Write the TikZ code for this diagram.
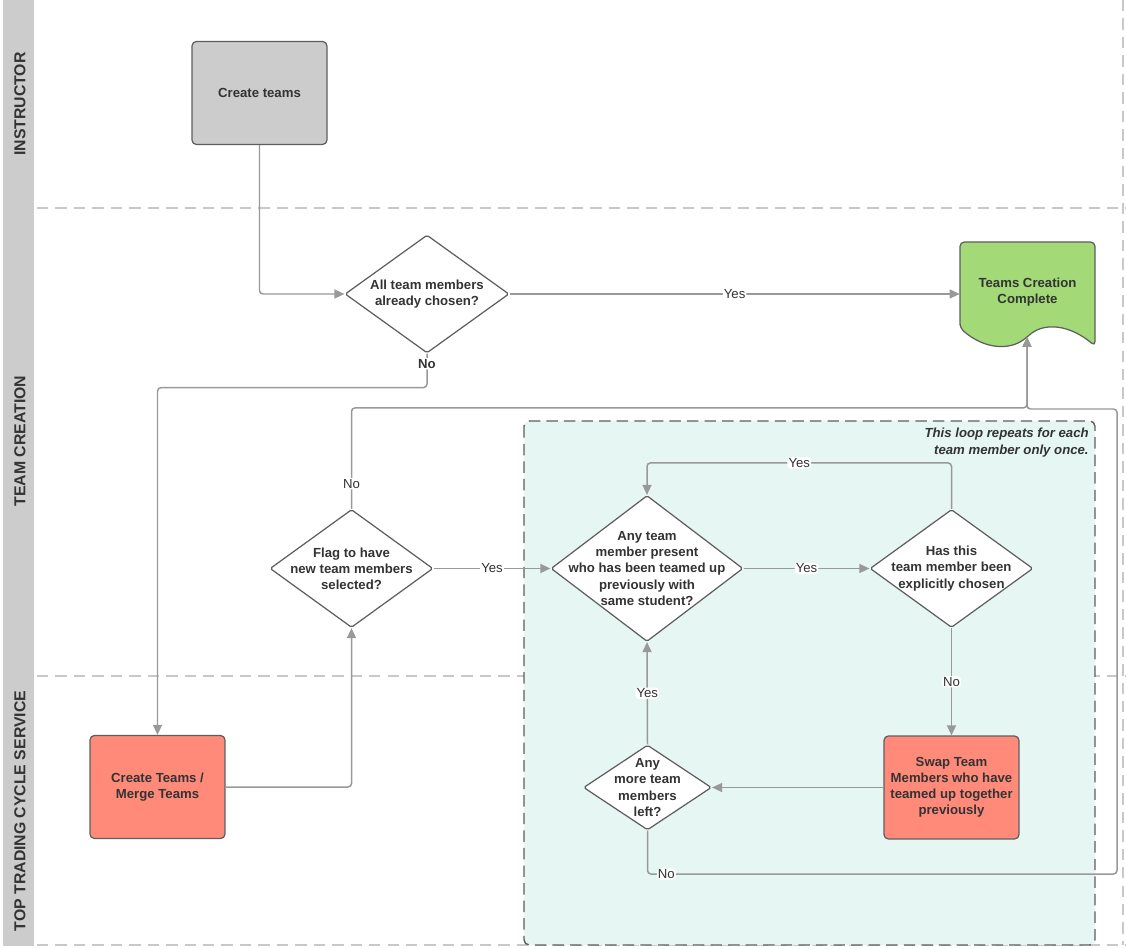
\documentclass[tikz,border=0pt]{standalone}
\usepackage{fontspec}
\setmainfont{Liberation Sans}
\definecolor{LaneGray}{RGB}{204,204,204}
\definecolor{LaneLine}{RGB}{200,200,200}
\definecolor{BoxGray}{RGB}{204,204,204}
\definecolor{EdgeGray}{RGB}{153,153,153}
\definecolor{Border}{RGB}{94,94,94}
\definecolor{InkDark}{RGB}{51,51,51}
\definecolor{Salmon}{RGB}{255,138,122}
\definecolor{DoneGreen}{RGB}{163,217,119}
\definecolor{LoopTint}{RGB}{230,246,243}
\usepackage{tikz}
\usetikzlibrary{arrows.meta,shapes.geometric}

\begin{document}
\begin{tikzpicture}[x=0.02cm,y=-0.02cm,
  every node/.style={text=InkDark},
  proc/.style={draw=Border,line width=0.7pt,rounded corners=2.5pt,inner sep=1pt,minimum width=2.7cm,minimum height=2.06cm,align=center,font=\bfseries\fontsize{7.5}{9.2}\selectfont},
  decision/.style={draw=Border,line width=0.7pt,fill=white,diamond,aspect=1.35,rounded corners=1pt,inner sep=-12pt,align=center,font=\bfseries\fontsize{7.5}{9.2}\selectfont},
  flow/.style={draw=EdgeGray,line width=0.85pt,rounded corners=2pt,-{Triangle[length=2mm,width=1.8mm]}},
  lbl/.style={fill=white,inner sep=0.6pt,font=\fontsize{7.5}{9}\selectfont},
  lane/.style={rotate=90,font=\bfseries\fontsize{9}{11}\selectfont},
  sep/.style={draw=LaneLine,line width=0.8pt,dash pattern=on 6.5pt off 4pt}]
  \useasboundingbox[fill=white] (0,0) rectangle (1126,949);

  % swim lanes
  \fill[LaneGray] (3,0) rectangle (34,946);
  \draw[sep] (37,208) -- (1126,208);
  \draw[sep] (37,676) -- (1126,676);
  \draw[sep] (37,945) -- (1126,945);
  \draw[sep] (1123,0) -- (1123,945);
  \node[lane] (lanei) at (20,104) {INSTRUCTOR};
  \node[lane] (lanet) at (20,441) {TEAM CREATION};
  \node[lane] (lanes) at (20,811) {TOP TRADING CYCLE SERVICE};

  % loop region
  \draw[draw=Border,line width=0.8pt,dash pattern=on 6.5pt off 3.5pt,fill=LoopTint,rounded corners=3pt] (524,421) rectangle (1095,945);
  \node[anchor=north east,inner sep=0pt,align=right,font=\bfseries\itshape\fontsize{7.5}{9.2}\selectfont] (note) at (1089,428) {This loop repeats for each\\team member only once.};

  % end document
  \draw[draw=Border,line width=0.7pt,fill=DoneGreen,rounded corners=2.5pt] (960,328) -- (960,242) -- (1095,242) -- (1095,346)
    .. controls (1070,325) and (1045,322) .. (1027,337) .. controls (1010,350) and (985,350) .. (960,328) -- cycle;
  \node[align=center,minimum width=2.7cm,minimum height=1.7cm,font=\bfseries\fontsize{7.5}{9.2}\selectfont] (done) at (1027.5,292) {Teams Creation\\Complete};
  \coordinate (donebot) at (1027,337);

  % steps
  \node[proc,fill=BoxGray] (create) at (259.5,93) {Create teams};
  \node[decision,minimum width=3.28cm,minimum height=2.36cm] (allchosen) at (427,294) {All team members\\already chosen?};
  \node[proc,fill=Salmon] (merge) at (157.5,787) {Create Teams /\\Merge Teams};
  \node[decision,minimum width=3.26cm,minimum height=2.36cm] (flag) at (351.5,568.5) {Flag to have\\new team members\\selected?};
  \node[decision,minimum width=3.84cm,minimum height=2.92cm] (anyteam) at (647,568.5) {Any team\\member present\\who has been teamed up\\previously with\\same student?};
  \node[decision,minimum width=3.26cm,minimum height=2.36cm] (hasthis) at (951.5,568.5) {Has this\\team member been\\explicitly chosen};
  \node[proc,fill=Salmon] (swap) at (951.5,787.5) {Swap Team\\Members who have\\teamed up together\\previously};
  \node[decision,minimum width=2.56cm,minimum height=1.7cm] (more) at (647.5,787.5) {Any\\more team\\members\\left?};

  % connectors
  \draw[flow] (create.south) |- (allchosen.west);
  \draw[flow] (allchosen.east) -- node[lbl] (yesdone) {Yes} (allchosen.east -| done.west);
  \draw[flow] (allchosen.south) -- node[lbl,pos=0.3,font=\bfseries\fontsize{7.5}{9}\selectfont] (nomerge) {No} ++(0,34) -| (merge.north);
  \draw[flow] (merge.east) -| (flag.south);
  \draw[flow] (flag.north) -- node[lbl,pos=0.25] (noflag) {No} ++(0,-101) -| (donebot);
  \draw[flow] (flag.east) -- node[lbl] (yesflag) {Yes} (anyteam.west);
  \draw[flow] (anyteam.east) -- node[lbl] (yesany) {Yes} (hasthis.west);
  \draw[flow] (hasthis.north) -- ++(0,-46) -| node[lbl,pos=0.25] (yeshas) {Yes} (anyteam.north);
  \draw[flow] (hasthis.south) -- node[lbl] (nohas) {No} (swap.north);
  \draw[flow] (swap.west) -- (more.east);
  \draw[flow] (more.north) -- node[lbl] (yesmore) {Yes} (anyteam.south);
  \draw[flow] (more.south) |- node[lbl,pos=0.52] (nomore) {No} (1117,874) -- (1117,409) -| (donebot);
\end{tikzpicture}
\end{document}
